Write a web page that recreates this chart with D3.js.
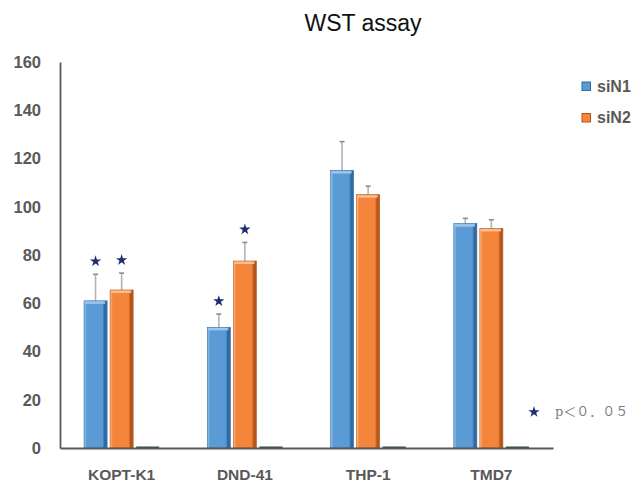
<!DOCTYPE html>
<html>
<head>
<meta charset="utf-8">
<script src="https://cdn.jsdelivr.net/npm/d3@7"></script>
<style>
  body { margin: 0; background: #fff; }
  svg { display: block; }
</style>
</head>
<body>
<svg id="svg" width="641" height="482"></svg>
<script>
// data
const categories = ['KOPT-K1', 'DND-41', 'THP-1', 'TMD7'];
const seriesNames = ['siN1', 'siN2'];
const siN1 = [61, 50, 115, 93];
const siN2 = [65.5, 77.5, 105, 91];
const siN1Err = [11, 5.5, 12, 2.2];
const siN2Err = [7, 7.7, 3.5, 3.6];
const siN1Sig = [true, true, false, false];
const siN2Sig = [true, true, false, false];
const emptySeries = [0, 0, 0, 0]; // third (empty) slot in each group
const yTicks = [0, 20, 40, 60, 80, 100, 120, 140, 160];

const svg = d3.select('#svg');
const padding = {top: 62, right: 88, bottom: 34, left: 60};
const width = 641, height = 482;

const yScale = d3.scaleLinear()
    .domain([0, 160])
    .range([height - padding.bottom, padding.top]);

const x0 = d3.scaleBand()
    .domain(categories)
    .range([padding.left, width - padding.right])
    .paddingInner(0.39)
    .paddingOuter(0.195);

const x1 = d3.scaleBand()
    .domain(['siN1', 'siN2', 'empty'])
    .range([0, x0.bandwidth()])
    .paddingInner(0.115);

const colors = {
    siN1: {base: '#5b9bd5', light: '#9cc6ec', dark: '#2f6aa3'},
    siN2: {base: '#f4843a', light: '#fbbd8f', dark: '#b4561c'}
};

// gradients for a bevelled look
const defs = svg.append('defs');
seriesNames.forEach(function(s) {
    const g = defs.append('linearGradient')
        .attr('id', 'grad-' + s)
        .attr('x1', '0%').attr('x2', '100%').attr('y1', '0%').attr('y2', '0%');
    g.append('stop').attr('offset', '0%').attr('stop-color', colors[s].light);
    g.append('stop').attr('offset', '12%').attr('stop-color', colors[s].base);
    g.append('stop').attr('offset', '80%').attr('stop-color', colors[s].base);
    g.append('stop').attr('offset', '88%').attr('stop-color', colors[s].dark);
    g.append('stop').attr('offset', '100%').attr('stop-color', colors[s].dark);
});

// title
svg.append('text')
    .attr('x', 363)
    .attr('y', 31)
    .attr('text-anchor', 'middle')
    .style('font-family', 'Liberation Sans, Arial, sans-serif')
    .style('font-size', '23px')
    .attr('fill', '#111')
    .text('WST assay');

// y axis
const yAxis = svg.append('g')
    .attr('transform', 'translate(' + padding.left + ',0)')
    .call(d3.axisLeft(yScale).tickValues(yTicks).tickSize(0).tickSizeOuter(0).tickPadding(19));
yAxis.select('.domain').attr('stroke', '#595959').attr('stroke-width', 1.8);
yAxis.selectAll('text')
    .style('font-family', 'Liberation Sans, Arial, sans-serif')
    .style('font-size', '16.5px')
    .style('font-weight', 'bold')
    .attr('fill', '#595959');

// bars
const rows = categories.map(function(c, i) {
    return {
        cat: c,
        bars: [
            {s: 'siN1', v: siN1[i], e: siN1Err[i], sig: siN1Sig[i]},
            {s: 'siN2', v: siN2[i], e: siN2Err[i], sig: siN2Sig[i]}
        ],
        empty: emptySeries[i]
    };
});

const groups = svg.append('g').selectAll('g').data(rows)
    .enter()
    .append('g')
    .attr('transform', function(d) { return 'translate(' + x0(d.cat) + ',0)'; });

const bar = groups.selectAll('g.bar').data(function(d) { return d.bars; })
    .enter()
    .append('g')
    .classed('bar', true);

// error bars (behind bars)
bar.append('line')
    .attr('x1', function(d) { return x1(d.s) + x1.bandwidth() / 2; })
    .attr('x2', function(d) { return x1(d.s) + x1.bandwidth() / 2; })
    .attr('y1', function(d) { return yScale(d.v); })
    .attr('y2', function(d) { return yScale(d.v + d.e); })
    .attr('stroke', '#b3b3b3')
    .attr('stroke-width', 1.6);
bar.append('line')
    .attr('x1', function(d) { return x1(d.s) + x1.bandwidth() / 2 - 2.5; })
    .attr('x2', function(d) { return x1(d.s) + x1.bandwidth() / 2 + 2.5; })
    .attr('y1', function(d) { return yScale(d.v + d.e); })
    .attr('y2', function(d) { return yScale(d.v + d.e); })
    .attr('stroke', '#8c8c8c')
    .attr('stroke-width', 1.6);

bar.append('rect')
    .attr('x', function(d) { return x1(d.s); })
    .attr('y', function(d) { return yScale(d.v); })
    .attr('width', x1.bandwidth())
    .attr('height', function(d) { return yScale(0) - yScale(d.v); })
    .attr('fill', function(d) { return 'url(#grad-' + d.s + ')'; })
    .attr('stroke', function(d) { return colors[d.s].dark; })
    .attr('stroke-width', 0.6);

// top bevel highlight
bar.append('rect')
    .attr('x', function(d) { return x1(d.s) + 1; })
    .attr('y', function(d) { return yScale(d.v) + 0.5; })
    .attr('width', x1.bandwidth() - 3)
    .attr('height', 2.5)
    .attr('fill', function(d) { return colors[d.s].light; });

// significance stars
bar.filter(function(d) { return d.sig; })
    .append('path')
    .attr('d', d3.symbol().type(d3.symbolStar).size(40))
    .attr('transform', function(d) {
        return 'translate(' + (x1(d.s) + x1.bandwidth() / 2) + ',' + (yScale(d.v + d.e) - 13) + ')';
    })
    .attr('fill', '#1f2f6e');

// empty third series: sits on the baseline
groups.append('rect')
    .attr('x', x1('empty'))
    .attr('y', function(d) { return yScale(d.empty) - 1.5; })
    .attr('width', x1.bandwidth())
    .attr('height', 1.5)
    .attr('fill', '#33503a');

// x axis
const xAxis = svg.append('g')
    .attr('transform', 'translate(0,' + yScale(0) + ')')
    .call(d3.axisBottom(x0).tickSize(0).tickSizeOuter(0).tickPadding(21));
xAxis.select('.domain').attr('stroke', '#595959').attr('stroke-width', 1.8);
xAxis.selectAll('text')
    .style('font-family', 'Liberation Sans, Arial, sans-serif')
    .style('font-size', '15.5px')
    .style('font-weight', 'bold')
    .attr('fill', '#595959');

// legend
const legend = svg.append('g').selectAll('g').data(seriesNames)
    .enter()
    .append('g')
    .attr('transform', function(d, i) { return 'translate(582,' + (82 + i * 31.5) + ')'; });
legend.append('rect')
    .attr('width', 8.5)
    .attr('height', 8.5)
    .attr('fill', function(d) { return colors[d].base; })
    .attr('stroke', function(d) { return colors[d].dark; })
    .attr('stroke-width', 1);
legend.append('text')
    .attr('x', 15)
    .attr('y', 9.7)
    .style('font-family', 'Liberation Sans, Arial, sans-serif')
    .style('font-size', '16px')
    .style('font-weight', 'bold')
    .attr('fill', '#595959')
    .text(function(d) { return d; });

// p-value note
svg.append('path')
    .attr('d', d3.symbol().type(d3.symbolStar).size(40))
    .attr('transform', 'translate(534,412)')
    .attr('fill', '#1f2f6e');
svg.append('text')
    .attr('x', 555)
    .attr('y', 416)
    .style('font-family', '"DejaVu Serif", "Noto Sans CJK SC", serif')
    .style('font-size', '13px')
    .attr('fill', '#808080')
    .text('p＜０．０５');
</script>
</body>
</html>
